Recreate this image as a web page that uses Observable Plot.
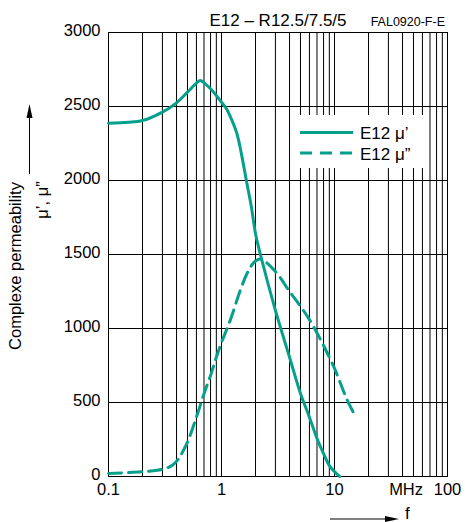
<!DOCTYPE html>
<html><head><meta charset="utf-8">
<script src="https://cdn.jsdelivr.net/npm/d3@7"></script>
<script src="https://cdn.jsdelivr.net/npm/@observablehq/plot@0.6"></script>
<style>body{margin:0;background:#fff}</style>
</head><body><div id="chart"></div>
<script>
const title = "E12 – R12.5/7.5/5";
const code = "FAL0920-F-E";
const seriesNames = ["E12 μ’", "E12 μ”"];
const yLabel1 = "Complexe permeability";
const yLabel2 = "μ’, μ”";
const xLabel = "f";

// μ' (solid)
const freqMu1 = [0.1, 0.15, 0.2, 0.3, 0.4, 0.5, 0.6, 0.65, 0.7, 0.8, 0.9, 1.0, 1.1, 1.2, 1.37, 1.52, 1.66, 1.84, 2.0, 2.21, 3, 4, 5, 6, 7, 8, 9, 11.1];
const mu1 =     [2387, 2393, 2405, 2462, 2525, 2597, 2658, 2676, 2660, 2620, 2574, 2529, 2488, 2430, 2316, 2158, 2000, 1820, 1640, 1500, 1122, 806, 561, 401, 257, 155, 74, 0];
// μ'' (dashed)
const freqMu2 = [0.1, 0.2, 0.27, 0.33, 0.37, 0.41, 0.45, 0.5, 0.6, 0.7, 0.8, 0.9, 1.0, 1.2, 1.47, 1.69, 1.93, 2.2, 3, 4, 5, 6, 7, 8, 10, 12.9, 14.8];
const mu2 =     [20, 32, 42, 58, 78, 112, 162, 232, 401, 559, 682, 806, 905, 1060, 1260, 1375, 1445, 1470, 1385, 1250, 1150, 1060, 970, 885, 730, 520, 428];

const yTicks = [0, 500, 1000, 1500, 2000, 2500, 3000];
const xTickValues = [0.1, 1, 10, 43, 100];
const xTickLabels = ["0.1", "1", "10", "MHz", "100"];
const xGrid = [];
for (const d of [0.1, 1, 10]) for (let k = 1; k <= 9; k++) xGrid.push(+(d * k).toPrecision(3));
xGrid.push(100);

const teal = "#05a08b";
const rows1 = freqMu1.map((f, i) => ({f, v: mu1[i], s: seriesNames[0]}));
const rows2 = freqMu2.map((f, i) => ({f, v: mu2[i], s: seriesNames[1]}));
const xLabelRows = xTickValues.map((v, i) => ({v, label: xTickLabels[i]}));

const plot = Plot.plot({
  width: 465, height: 522,
  marginLeft: 108, marginRight: 18, marginTop: 32, marginBottom: 46,
  style: {fontFamily: "'Liberation Sans', Arial, sans-serif", fontSize: "16.5px", color: "#000", background: "#fff"},
  x: {type: "log", domain: [0.1, 100], axis: null},
  y: {domain: [0, 3000]},
  marks: [
    Plot.ruleX(xGrid, {stroke: "#000", strokeWidth: 1}),
    Plot.ruleY(yTicks, {stroke: "#000", strokeWidth: 1}),
    Plot.frame({stroke: "#000", strokeWidth: 1}),
    Plot.line(rows1, {x: "f", y: "v", stroke: teal, strokeWidth: 3, curve: "catmull-rom"}),
    Plot.line(rows2, {x: "f", y: "v", stroke: teal, strokeWidth: 3, strokeDasharray: "13,7", curve: "catmull-rom"}),
    Plot.axisY({ticks: yTicks, tickSize: 0, tickPadding: 8, dy: -2, label: null, fontSize: "16.5px", tickFormat: (d) => String(d)}),
    Plot.text(xLabelRows, {x: "v", text: "label", frameAnchor: "bottom", lineAnchor: "top", dy: 7, fontSize: 16.5, fill: "#000"})
  ]
});
document.getElementById("chart").append(plot);

const svg = d3.select(plot);
const font = "'Liberation Sans', Arial, sans-serif";
svg.append("text").attr("x", 278).attr("y", 26).attr("text-anchor", "middle")
  .attr("font-family", font).attr("font-size", 17).attr("fill", "#000").text(title);
svg.append("text").attr("x", 445).attr("y", 26).attr("text-anchor", "end")
  .attr("font-family", font).attr("font-size", 12.5).attr("fill", "#000").text(code);

// legend
const lg = svg.append("g");
lg.append("rect").attr("x", 295).attr("y", 115).attr("width", 130).attr("height", 53).attr("fill", "#fff");
lg.append("line").attr("x1", 300).attr("x2", 353).attr("y1", 132.5).attr("y2", 132.5)
  .attr("stroke", teal).attr("stroke-width", 3);
lg.append("line").attr("x1", 300).attr("x2", 353).attr("y1", 153).attr("y2", 153)
  .attr("stroke", teal).attr("stroke-width", 3).attr("stroke-dasharray", "12,8");
lg.append("text").attr("x", 360).attr("y", 139).attr("text-anchor", "start").attr("font-family", font).attr("font-size", 17).text(seriesNames[0]);
lg.append("text").attr("x", 360).attr("y", 160).attr("text-anchor", "start").attr("font-family", font).attr("font-size", 17).text(seriesNames[1]);

// y label + arrow
svg.append("text").attr("transform", "translate(21,266) rotate(-90)").attr("text-anchor", "middle")
  .attr("font-family", font).attr("font-size", 16.5).text(yLabel1);
svg.append("text").attr("transform", "translate(48,200) rotate(-90)").attr("text-anchor", "middle")
  .attr("font-family", font).attr("font-size", 16.5).text(yLabel2);
svg.append("line").attr("x1", 29.5).attr("x2", 29.5).attr("y1", 174).attr("y2", 116).attr("stroke", "#000").attr("stroke-width", 1);
svg.append("polygon").attr("points", "29.5,104 26.5,118 32.5,118").attr("fill", "#000");

// x label + arrow
svg.append("line").attr("x1", 330).attr("x2", 388).attr("y1", 519).attr("y2", 519).attr("stroke", "#000").attr("stroke-width", 1);
svg.append("polygon").attr("points", "399,519 385,516 385,522").attr("fill", "#000");
svg.append("text").attr("x", 405).attr("y", 519).attr("text-anchor", "start").attr("font-family", font).attr("font-size", 17).text(xLabel);
</script>
</body></html>
